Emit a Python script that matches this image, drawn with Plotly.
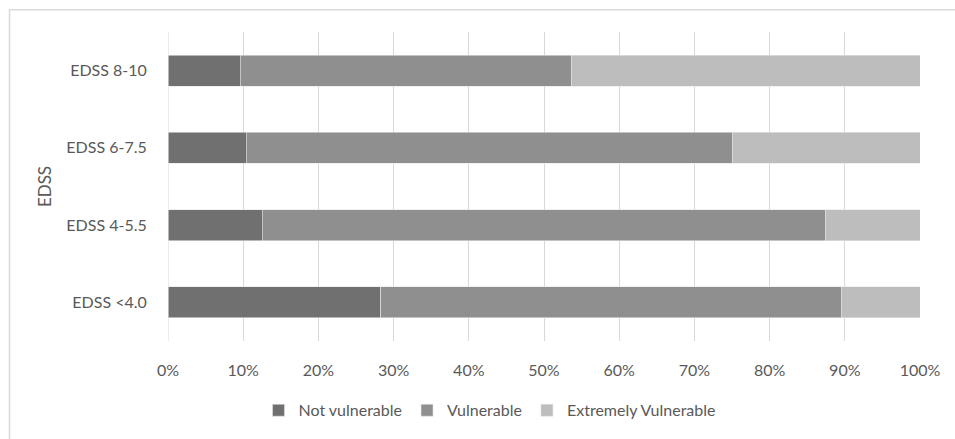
import plotly.graph_objects as go

categories = ["EDSS <4.0", "EDSS 4-5.5", "EDSS 6-7.5", "EDSS 8-10"]
not_vulnerable = [28.3, 12.5, 10.4, 9.6]
vulnerable = [61.2, 74.9, 64.7, 44.1]
extremely_vulnerable = [10.5, 12.6, 24.9, 46.3]
series_names = ["Not vulnerable", "Vulnerable", "Extremely Vulnerable"]
colors = ["#707070", "#8f8f8f", "#bdbdbd"]

FONT = "Lato"
fig = go.Figure()
for name, vals, col in zip(series_names, [not_vulnerable, vulnerable, extremely_vulnerable], colors):
    fig.add_trace(go.Bar(
        y=categories, x=vals, name=name, orientation="h",
        marker=dict(color=col, line=dict(color="#e6e6e6", width=0.6)),
    ))

L, R, T, B = 168, 35, 32, 94
W, H = 955, 439
pw, ph = W - L - R, H - T - B

def px_x(p):
    return (p - L) / pw

def px_y(p):
    return 1 - (p - T) / ph

border = dict(color="#d9d9d9", width=1.5)
fig.update_layout(
    barmode="stack",
    bargap=0.6,
    width=W, height=H,
    margin=dict(l=L, r=R, t=T, b=B),
    paper_bgcolor="white", plot_bgcolor="white",
    font=dict(family=FONT, size=16, color="#595959"),
    xaxis=dict(
        range=[0, 100], dtick=10, ticksuffix="%",
        showgrid=True, gridcolor="#d9d9d9", gridwidth=1,
        zeroline=False, showline=False,
        ticks="outside", ticklen=15, tickcolor="rgba(0,0,0,0)",
        tickfont=dict(family=FONT, size=16, color="#595959"),
        fixedrange=True,
    ),
    yaxis=dict(
        categoryorder="array", categoryarray=categories,
        showgrid=False, zeroline=False, showline=False,
        ticks="outside", ticklen=17, tickcolor="rgba(0,0,0,0)",
        tickfont=dict(family=FONT, size=16, color="#595959"),
        title=dict(text="EDSS", font=dict(family=FONT, size=17, color="#595959"), standoff=10),
    ),
    legend=dict(
        orientation="h", x=px_x(490), xanchor="center", y=px_y(398), yanchor="top",
        font=dict(family=FONT, size=16, color="#595959"),
        traceorder="normal", itemwidth=30,
    ),
    shapes=[
        dict(type="line", xref="paper", yref="paper",
             x0=px_x(9), x1=px_x(960), y0=px_y(9.5), y1=px_y(9.5), line=border),
        dict(type="line", xref="paper", yref="paper",
             x0=px_x(9.5), x1=px_x(9.5), y0=px_y(9), y1=px_y(445), line=border),
    ],
    showlegend=True,
)
fig.add_vline(x=0, line=dict(color="#d9d9d9", width=1), layer="below")

fig.write_html("out.html", config={"displayModeBar": False},
               post_script="document.body.style.margin='0';document.body.style.overflow='hidden';")
